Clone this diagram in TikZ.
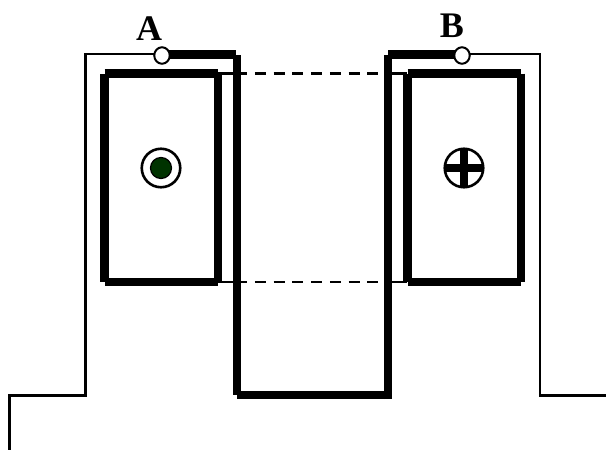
\documentclass[tikz,border=0pt]{standalone}
\usepackage{fontspec}
\setmainfont{Liberation Serif}
\usetikzlibrary{shapes.geometric}
\tikzset{
  thinwire/.style={line width=2.2pt,black,line cap=butt},
  thickwire/.style={line width=8.6pt,black,line cap=butt},
  dashwire/.style={line width=2.2pt,black},
  terminal/.style={ellipse,draw=black,line width=2pt,fill=white,minimum width=15.5pt,minimum height=16.5pt,inner sep=0pt},
  ring/.style={circle,draw=black,line width=2.6pt,fill=white,minimum size=38.5pt,inner sep=0pt},
  crossbar/.style={line width=8.5pt,black,shorten <=2pt,shorten >=2pt},
  lbl/.style={font=\bfseries\fontsize{36}{36}\selectfont,inner sep=0pt,anchor=base}
}
\begin{document}
\begin{tikzpicture}[x=1pt,y=-1pt]
\useasboundingbox (0,0) rectangle (606,450);
% dashed
\coordinate (d1) at (218,73.5); \coordinate (d1b) at (236,73.5); \coordinate (d2b) at (386,73.5); \coordinate (d2) at (407,73.5);
\coordinate (d3) at (218,282); \coordinate (d3b) at (236,282); \coordinate (d4b) at (386,282); \coordinate (d4) at (407,282);
\draw[dashwire] (d1) -- (d1b);
\draw[dashwire,dash pattern=on 11pt off 7.75pt] (d1b) -- (d2b);
\draw[dashwire] (d2b) -- (d2);
\draw[dashwire] (d3) -- (d3b);
\draw[dashwire,dash pattern=on 11pt off 7.75pt] (d3b) -- (d4b);
\draw[dashwire] (d4b) -- (d4);
% thin wires
\coordinate (l0) at (9.5,450); \coordinate (l1) at (9.5,395.5); \coordinate (l2) at (85.5,395.5); \coordinate (l3) at (85.5,54);
\coordinate (r0) at (606,395.5); \coordinate (r1) at (540,395.5); \coordinate (r2) at (540,54);
\coordinate (la) at (162,54); \coordinate (lb) at (462,54);
\draw[thinwire,line join=miter] (l0) -- (l1) -- (l2) -- (l3) -- (la);
\draw[thinwire,line join=miter] (r0) -- (r1) -- (r2) -- (lb);
% thick winding
\coordinate (w0) at (162,54.5); \coordinate (w1) at (236,54.5); \coordinate (w2) at (237,395); \coordinate (w3) at (388,395); \coordinate (w5) at (388,54.5); \coordinate (w6) at (462,54.5);
\draw[thickwire] (w0) -- (w1);
\draw[thickwire] (237,55) -- (w2);
\draw[thickwire] (w2) -- (w3);
\draw[thickwire] (388,399) -- (388,55);
\draw[thickwire] (w5) -- (w6);
% terminals
\node[terminal] (ta) at (162,55.5) {};
\node[terminal] (tb) at (462,55.5) {};
% core rectangles
\foreach \xa/\xb in {104.5/218,407.5/521}{
  \draw[thickwire] (\xa,73.5) -- (\xb,73.5);
  \draw[thickwire] (\xa,282) -- (\xb,282);
  \draw[thickwire] (\xa,73.5) -- (\xa,282);
  \draw[thickwire] (\xb,73.5) -- (\xb,282);
}
% dot symbol
\node[ring] (dot) at (161,168) {};
\node[circle,draw=black,line width=1.2pt,fill={rgb,255:red,0;green,51;blue,0},minimum size=21pt,inner sep=0pt] (dotin) at (161,168) {};
% cross symbol
\node[ring] (cross) at (464,168) {};
\draw[crossbar] (cross.west) -- (cross.east);
\draw[crossbar] (cross.north) -- (cross.south);
% labels
\node[lbl] (A) at (149,40) {A};
\node[lbl] (B) at (452,37.5) {B};
\end{tikzpicture}
\end{document}
